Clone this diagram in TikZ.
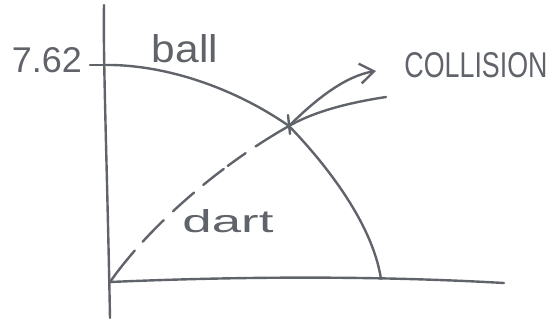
\documentclass[tikz,border=0pt]{standalone}
\usepackage{fontspec}
\setmainfont{Liberation Sans}
\usetikzlibrary{arrows.meta}
\definecolor{pen}{RGB}{96,100,106}
\tikzset{
  ink/.style={draw=pen, line width=2.4pt, line cap=round, line join=round},
  hand/.style={text=pen, inner sep=0pt},
}
\begin{document}
\begin{tikzpicture}[x=1pt,y=-1pt]
\useasboundingbox (0,0) rectangle (548,320);
% coordinates
\coordinate (ytop) at (104,5);
\coordinate (ybot) at (110,318);
\coordinate (o) at (110,282);
\coordinate (xend) at (504,283);
\coordinate (top) at (104,65);
\coordinate (tickl) at (90,65);
\coordinate (bend) at (381,279);
\coordinate (tail) at (386,97);
\coordinate (tip) at (376,71);
\node[inner sep=0pt] (col) at (289,126) {};
% axes
\draw[ink] (ytop) .. controls (103,60) and (107,160) .. (ybot);
\draw[ink] (o) .. controls (250,276) and (380,276) .. (xend);
\draw[ink] (tickl) -- (top);
% ball
\draw[ink] (top) .. controls (160,64) and (230,85) .. (col.center)
  .. controls (320,158) and (372,220) .. (bend);
% dart
\draw[ink, dash pattern=on 40pt off 12pt on 30pt off 13pt on 28pt off 12pt on 26pt off 5pt on 22pt off 12pt] (o) .. controls (150,225) and (220,165) .. (col.center);
% star
\draw[ink] (288,115) -- (290,134);
% collision arrows
\draw[ink, -{Straight Barb[length=14pt,width=20pt]}] (col.center) .. controls (315,100) and (345,76) .. (tip);
\draw[ink] (tail) .. controls (340,104) and (310,114) .. (col.center);
% labels
\node[hand] (v) at (47,60.5) {\resizebox{70pt}{25pt}{7.62}};
\node[hand] (ball) at (185,49) {\resizebox{66pt}{28pt}{ball}};
\node[hand] (dart) at (228,221.5) {\resizebox{91pt}{23pt}{dart}};
\node[hand] (coll) at (476,65.5) {\resizebox{143pt}{25pt}{COLLISION}};
\end{tikzpicture}
\end{document}
